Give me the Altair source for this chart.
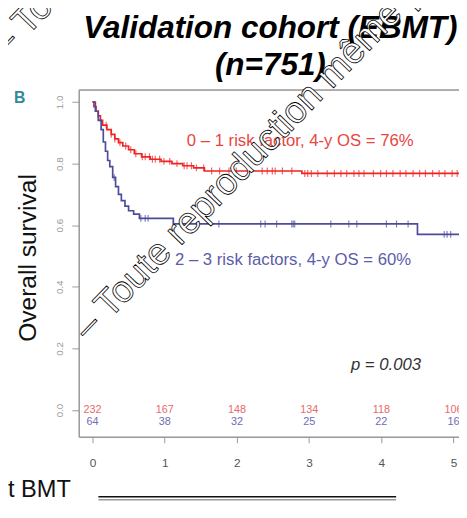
import altair as alt
import pandas as pd

# ---------------- data ----------------
groups = ["0 - 1 risk factor", "2 - 3 risk factors"]

low_t = [0, 0.02, 0.05, 0.08, 0.11, 0.14, 0.20, 0.26, 0.31, 0.36, 0.42, 0.50,
         0.58, 0.68, 0.80, 0.95, 1.10, 1.25, 1.40, 1.55, 2.90]
low_s = [1.0, 0.985, 0.97, 0.955, 0.94, 0.925, 0.91, 0.895, 0.88, 0.868, 0.857,
         0.845, 0.832, 0.822, 0.814, 0.807, 0.800, 0.793, 0.786, 0.776, 0.768]

high_t = [0, 0.04, 0.08, 0.12, 0.15, 0.18, 0.21, 0.24, 0.28, 0.32, 0.36, 0.40,
          0.45, 0.50, 0.57, 0.65, 1.12, 4.50]
high_s = [1.0, 0.97, 0.94, 0.91, 0.87, 0.84, 0.81, 0.79, 0.755, 0.725, 0.70,
          0.68, 0.662, 0.647, 0.636, 0.622, 0.604, 0.570]

low_censor = [0.19, 0.26, 0.31, 0.38, 0.46, 0.53, 0.60, 0.69, 0.73, 0.79, 0.83,
              0.87, 0.93, 0.99, 1.07, 1.17, 1.27, 1.31, 1.37, 1.44, 1.54, 1.65,
              1.76, 1.89, 1.99, 2.16, 2.35, 2.42, 2.49, 2.53, 2.63, 2.76, 2.94,
              2.98, 3.03, 3.12, 3.25, 3.35, 3.44, 3.52, 3.62, 3.69, 3.76, 3.89,
              3.99, 4.07, 4.16, 4.26, 4.34, 4.44, 4.53, 4.61, 4.71, 4.80, 4.88,
              4.98, 5.05]
high_censor = [0.30, 0.67, 0.73, 0.77, 1.12, 1.75, 2.33, 2.39, 2.55, 2.76, 2.78,
               2.80, 3.30, 3.55, 3.66, 4.07, 4.21, 4.37, 4.87, 4.91, 4.96]

years = [0, 1, 2, 3, 4, 5]
at_risk_low = [232, 167, 148, 134, 118, 106]
at_risk_high = [64, 38, 32, 25, 22, 16]
y_ticks = [0.0, 0.2, 0.4, 0.6, 0.8, 1.0]

title_lines = ["Validation cohort (EBMT)", "(n=751)"]
label_low = "0 \u2013 1 risk factor, 4-y OS = 76%"
label_high = "2 \u2013 3 risk factors, 4-y OS = 60%"
p_text = "p = 0.003"
y_title = "Overall survival"
x_title = "Years post BMT"
panel_letter = "B"
watermark = "\u2013 Toute reproduction m\u00eame partielle interdite"

RED = "#f02424"
BLUE = "#4c4c9a"
RED_TXT = "#e8453f"
BLUE_TXT = "#5c5caa"
AXIS = "#9a9a9a"

T_END = 5.4

# ---------------- build tables ----------------
def surv_at(ts, ss, t):
    v = ss[0]
    for a, b in zip(ts, ss):
        if a <= t:
            v = b
    return v

rows = []
for g, ts, ss in [(groups[0], low_t, low_s), (groups[1], high_t, high_s)]:
    for a, b in zip(ts, ss):
        rows.append({"group": g, "t": a, "s": b})
    rows.append({"group": g, "t": T_END, "s": ss[-1]})
curves = pd.DataFrame(rows)

crow = []
for g, ts, ss, cs in [(groups[0], low_t, low_s, low_censor),
                      (groups[1], high_t, high_s, high_censor)]:
    for c in cs:
        crow.append({"group": g, "t": c, "s": surv_at(ts, ss, c)})
censors = pd.DataFrame(crow)

risk_low_df = pd.DataFrame({"t": years, "n": [str(v) for v in at_risk_low]})
risk_high_df = pd.DataFrame({"t": years, "n": [str(v) for v in at_risk_high]})

W, H = 387, 353
xscale = alt.Scale(domain=[-0.19, 5.075], nice=False, zero=False)
yscale = alt.Scale(domain=[-0.087, 1.039], nice=False, zero=False)
color = alt.Color("group:N", scale=alt.Scale(domain=groups, range=[RED, BLUE]), legend=None)

lines = alt.Chart(curves).mark_line(interpolate="step-after", strokeWidth=1.7, clip=True).encode(
    x=alt.X("t:Q", scale=xscale,
            axis=alt.Axis(values=years, format="d", title=None, grid=False,
                          domainColor=AXIS, domainWidth=1.5, tickColor=AXIS,
                          tickSize=6, labelColor="#555555", labelFontSize=12,
                          labelPadding=15, labelFont="Liberation Sans")),
    y=alt.Y("s:Q", scale=yscale,
            axis=alt.Axis(values=y_ticks, format=".1f", title=None, grid=False,
                          domainColor=AXIS, domainWidth=1.5, tickColor=AXIS,
                          tickSize=7, labelAngle=270, labelColor="#9a9a9a",
                          labelFontSize=10, labelPadding=8,
                          labelFont="Liberation Sans")),
    color=color,
    detail="group:N",
)

ticks = alt.Chart(censors).mark_tick(orient="vertical", size=7, thickness=1.2, clip=True).encode(
    x=alt.X("t:Q", scale=xscale),
    y=alt.Y("s:Q", scale=yscale),
    color=color,
)

risk_low_text = alt.Chart(risk_low_df).mark_text(
    fontSize=11, font="Liberation Sans", baseline="middle", color="#e86a6a").encode(
    x=alt.X("t:Q", scale=xscale), y=alt.value(326), text="n:N")
risk_high_text = alt.Chart(risk_high_df).mark_text(
    fontSize=11, font="Liberation Sans", baseline="middle", color="#6d6db3").encode(
    x=alt.X("t:Q", scale=xscale), y=alt.value(338), text="n:N")


def txt(text, x, y, **kw):
    return alt.Chart(pd.DataFrame({"label": [text]})).mark_text(**kw).encode(
        x=alt.value(x), y=alt.value(y), text="label:N")


layers = [
    lines, ticks, risk_low_text, risk_high_text,
    # top frame line
    alt.Chart(pd.DataFrame({"a": [0]})).mark_rule(color=AXIS, strokeWidth=1.5).encode(
        x=alt.value(0), x2=alt.value(W), y=alt.value(0)),
    # double rule under the panel
    alt.Chart(pd.DataFrame({"a": [0]})).mark_rule(color="#111111", strokeWidth=1.5).encode(
        x=alt.value(20), x2=alt.value(323), y=alt.value(414)),
    alt.Chart(pd.DataFrame({"a": [0]})).mark_rule(color="#9a9a9a", strokeWidth=1.5).encode(
        x=alt.value(20), x2=alt.value(323), y=alt.value(417)),
    txt(title_lines[0], 195, -53, fontSize=32, fontWeight="bold", fontStyle="italic",
        font="Liberation Sans", align="center", baseline="alphabetic", color="#000000"),
    txt(title_lines[1], 195, -15, fontSize=32, fontWeight="bold", fontStyle="italic",
        font="Liberation Sans", align="center", baseline="alphabetic", color="#000000"),
    txt(panel_letter, -60, 8, fontSize=16, fontWeight="bold", font="Liberation Sans",
        align="center", baseline="middle", color="#2f8c9c"),
    txt(y_title, -51, 171, fontSize=25, font="Liberation Sans", angle=270,
        align="center", baseline="middle", color="#111111"),
    txt(x_title, -8, 414, fontSize=24, font="Liberation Sans", align="right",
        baseline="alphabetic", color="#111111"),
    txt(label_low, 110, 52, fontSize=17, font="Liberation Sans", align="left",
        baseline="middle", color=RED_TXT),
    txt(label_high, 98, 173, fontSize=17, font="Liberation Sans", align="left",
        baseline="middle", color=BLUE_TXT),
    txt(p_text, 277, 280, fontSize=17, fontStyle="italic", font="Liberation Sans",
        align="left", baseline="middle", color="#333333"),
    txt(watermark, 10, 256, fontSize=38, font="Liberation Sans", angle=314, align="left",
        baseline="alphabetic", color="#ffffff", stroke="#000000", strokeWidth=0.8),
    txt(watermark, -74, -32, fontSize=38, font="Liberation Sans", angle=314, align="left",
        baseline="alphabetic", color="#ffffff", stroke="#000000", strokeWidth=0.8),
]

chart = alt.layer(*layers).properties(
    width=W, height=H,
    autosize=alt.AutoSizeParams(type="none"),
    padding={"left": 72, "top": 79, "right": 0, "bottom": 66},
).configure_view(strokeWidth=0).configure(background="#ffffff")

chart.save("out.html", embed_options={"renderer": "svg", "actions": False})
